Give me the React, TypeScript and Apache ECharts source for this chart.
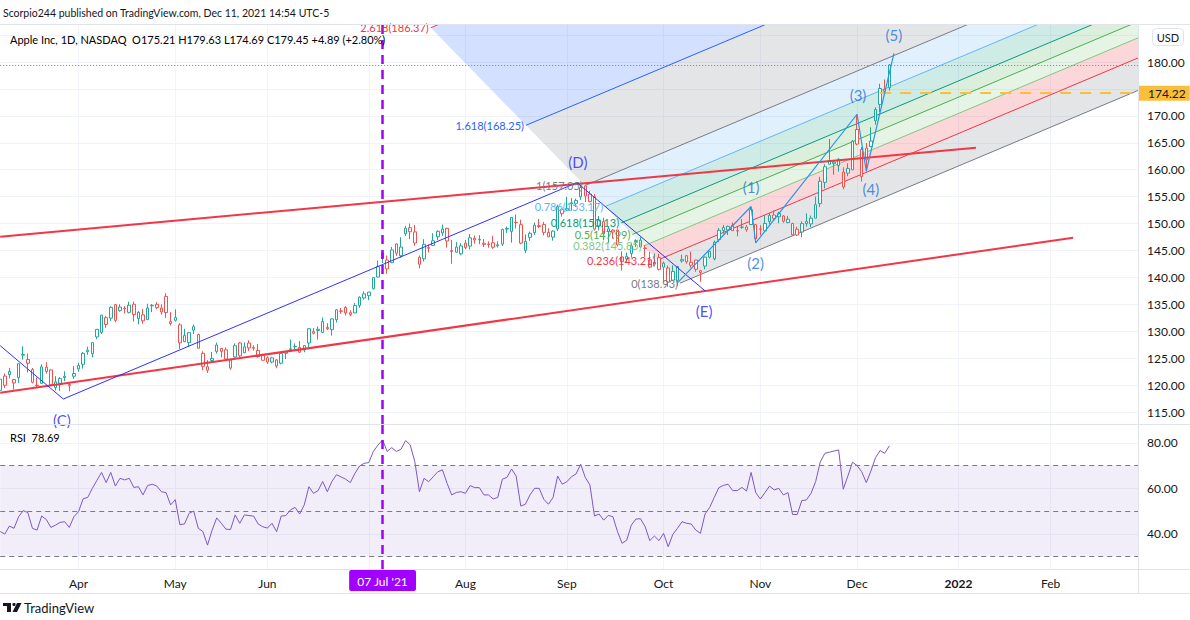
import React, { useEffect, useRef } from "react";
import * as echarts from "echarts";

// ---------- calendar ----------
const FIRST_DAY = "2021-03-09";
const LAST_DAY = "2022-03-01";
const HOLIDAYS = ["2021-04-02", "2021-05-31", "2021-07-05", "2021-09-06", "2021-11-25", "2021-12-24", "2022-01-17", "2022-02-21"];
const MONTHS = ["Jan", "Feb", "Mar", "Apr", "May", "Jun", "Jul", "Aug", "Sep", "Oct", "Nov", "Dec"];

// ---------- daily OHLC (Mar 9 2021 .. Dec 10 2021) ----------
const OPEN = [
  119.03, 121.69, 122.54, 120.40, 121.41, 125.70, 124.05, 122.88, 119.90, 120.33, 123.33, 122.82, 119.54, 120.35, 121.65, 120.11, 121.65,
  123.66, 123.87, 126.50, 125.83, 128.95, 129.80, 132.52, 132.44, 134.94, 133.82, 134.30, 133.51, 135.02, 132.36, 133.04, 132.16, 134.83, 135.01, 134.31, 136.47, 131.78,
  132.04, 131.19, 129.20, 127.89, 130.85, 129.41, 123.50, 123.40, 124.58, 126.25, 126.82, 126.56, 123.16, 125.23, 127.82, 126.01, 127.82, 126.96, 126.44, 125.57,
  125.08, 124.28, 124.68, 124.07, 126.17, 126.60, 127.21, 127.02, 126.53, 127.82, 129.94, 130.37, 129.80, 130.71, 130.30, 132.13, 133.77, 134.45, 133.46, 133.41, 134.80, 136.17,
  136.60, 137.90, 140.07, 143.54, 141.58, 142.75, 146.21, 144.03, 148.10, 149.24, 148.46, 143.75, 143.46, 145.53, 145.94, 147.55, 148.27, 149.12, 144.81, 144.69, 144.38,
  146.36, 145.81, 147.27, 146.98, 146.35, 146.20, 146.44, 146.05, 146.19, 148.97, 148.54, 150.23, 149.80, 145.03, 147.44, 148.31, 149.45, 149.81, 148.35, 147.48, 149.00, 152.66,
  152.83, 153.87, 153.76, 154.97, 156.98, 155.49, 155.00, 150.63, 150.35, 148.56, 148.44, 148.82, 143.80, 143.93, 144.45, 146.65, 145.66, 145.47, 143.25, 142.47, 143.66,
  141.90, 141.76, 139.49, 139.47, 143.06, 144.03, 142.27, 143.23, 141.24, 142.11, 143.77, 143.45, 147.01, 148.70, 148.81, 149.69, 148.68, 149.33, 149.36, 149.82, 147.22,
  148.99, 148.66, 150.39, 151.58, 151.89, 151.41, 150.20, 150.02, 148.96, 148.43, 150.37, 149.94, 151.00, 153.71, 157.65, 161.68, 161.12, 160.75, 159.57, 159.37, 159.99,
  167.48, 158.74, 164.02, 164.29, 169.08, 172.13, 174.91, 175.21,
];
const HIGH = [
  122.06, 122.17, 123.21, 121.17, 124.00, 127.22, 125.86, 123.18, 121.43, 123.87, 124.24, 122.90, 121.66, 121.48, 122.58, 120.40, 123.52,
  124.18, 126.16, 127.13, 127.92, 130.39, 133.04, 132.85, 134.66, 135.00, 135.00, 134.67, 135.47, 135.53, 133.75, 134.15, 135.12, 135.06, 135.41, 135.02, 137.07, 133.56,
  134.07, 131.49, 130.45, 129.75, 131.26, 129.54, 126.27, 124.64, 126.15, 127.89, 126.93, 126.99, 124.92, 127.72, 128.00, 127.94, 128.32, 127.39, 127.64, 125.80,
  125.35, 125.24, 124.85, 126.16, 126.32, 128.46, 127.75, 128.19, 127.44, 130.54, 130.60, 130.89, 132.55, 131.51, 132.41, 134.08, 134.32, 134.64, 133.89, 135.25, 136.49, 137.41,
  137.33, 140.00, 143.15, 144.89, 144.06, 145.65, 146.32, 147.46, 149.57, 150.00, 149.76, 144.07, 147.10, 146.13, 148.20, 148.72, 149.83, 149.21, 146.97, 146.55, 146.33,
  146.95, 148.04, 147.79, 147.84, 147.11, 146.70, 147.71, 146.72, 149.05, 149.44, 151.19, 151.68, 150.72, 148.00, 148.50, 150.19, 150.86, 150.32, 149.12, 148.75, 153.49, 152.80,
  154.98, 154.72, 154.63, 157.26, 157.04, 156.11, 155.48, 151.42, 151.07, 149.44, 148.97, 148.82, 144.84, 144.60, 146.43, 147.08, 147.47, 145.96, 144.75, 144.45, 144.38,
  142.92, 142.21, 142.24, 142.15, 144.22, 144.18, 144.81, 143.25, 141.40, 143.88, 144.90, 146.84, 149.17, 149.75, 149.64, 150.18, 149.37, 150.84, 149.73, 153.17, 149.94,
  149.70, 151.57, 151.97, 152.43, 152.20, 151.57, 151.43, 150.13, 149.43, 150.40, 151.88, 151.49, 155.00, 158.67, 161.02, 165.70, 161.80, 162.14, 160.45, 161.19, 165.52,
  170.30, 164.20, 164.96, 167.88, 171.58, 175.96, 176.75, 179.63,
];
const LOW = [
  118.79, 119.45, 121.26, 119.16, 120.42, 124.72, 122.34, 120.32, 119.68, 120.26, 122.14, 120.07, 119.00, 118.92, 120.73, 118.86, 121.15,
  122.49, 123.07, 125.65, 125.14, 128.52, 129.47, 130.63, 131.93, 131.66, 133.64, 133.28, 133.34, 131.81, 131.30, 131.41, 132.16, 133.56, 134.11, 133.08, 132.45, 131.07,
  131.83, 126.70, 127.97, 127.13, 129.48, 126.81, 122.77, 122.25, 124.26, 125.85, 125.17, 124.78, 122.86, 125.10, 125.21, 125.94, 126.32, 126.42, 125.08, 124.55,
  123.94, 124.05, 123.13, 123.85, 124.83, 126.21, 126.52, 125.94, 126.10, 127.07, 129.39, 128.46, 129.65, 130.24, 129.21, 131.62, 133.23, 132.93, 132.81, 133.35, 134.35, 135.87,
  135.76, 137.75, 140.07, 142.66, 140.67, 142.65, 144.00, 143.63, 147.68, 147.09, 145.88, 141.67, 142.96, 144.63, 145.81, 146.92, 147.70, 145.55, 142.54, 144.58, 144.11,
  145.25, 145.18, 146.28, 146.17, 145.63, 145.52, 145.30, 145.53, 145.84, 148.27, 146.47, 149.09, 146.15, 144.50, 146.78, 147.89, 149.15, 147.80, 147.51, 146.83, 148.61, 151.29,
  152.34, 152.40, 153.09, 154.39, 153.98, 153.95, 148.70, 148.75, 146.91, 146.37, 147.22, 145.76, 141.27, 142.78, 143.70, 145.64, 145.56, 143.82, 141.69, 142.03, 141.28,
  139.11, 138.27, 139.36, 138.37, 142.72, 142.56, 141.81, 141.04, 139.20, 141.51, 143.51, 143.16, 146.55, 148.12, 147.87, 148.64, 147.62, 149.01, 148.49, 149.72, 146.41,
  147.80, 148.65, 149.82, 150.64, 150.06, 150.16, 150.06, 147.85, 147.68, 147.48, 149.43, 149.34, 150.99, 153.05, 156.53, 161.00, 159.06, 159.64, 156.36, 158.79, 159.92,
  164.53, 157.80, 159.72, 164.28, 168.34, 170.70, 173.92, 174.69,
];
const CLOSE = [
  121.09, 119.98, 121.96, 121.03, 123.99, 125.57, 124.76, 120.53, 119.99, 123.39, 122.54, 120.09, 120.59, 121.21, 121.39, 119.90, 122.15,
  123.00, 125.90, 126.21, 127.90, 130.36, 133.00, 131.24, 134.43, 132.03, 134.50, 134.16, 134.84, 133.11, 133.50, 131.94, 134.32, 134.72, 134.39, 133.58, 133.48, 131.46,
  132.54, 127.85, 128.10, 129.74, 130.21, 126.85, 125.91, 122.77, 124.97, 127.45, 126.27, 124.85, 124.69, 127.31, 125.43, 127.10, 126.90, 126.85, 125.28, 124.61,
  124.28, 125.06, 123.54, 125.89, 125.90, 126.74, 127.13, 126.11, 127.35, 130.48, 129.64, 130.15, 131.79, 130.46, 132.30, 133.98, 133.70, 133.41, 133.11, 134.78, 136.33, 136.96,
  137.27, 139.96, 142.02, 144.57, 143.24, 145.11, 144.50, 145.64, 149.15, 148.48, 146.39, 142.45, 146.15, 145.40, 146.80, 148.56, 148.99, 146.77, 144.98, 145.64, 145.86,
  145.52, 147.36, 146.95, 147.06, 146.14, 146.09, 145.60, 145.86, 148.89, 149.10, 151.12, 150.19, 146.36, 146.70, 148.19, 149.71, 149.62, 148.36, 147.54, 148.60, 153.12, 151.83,
  152.51, 153.65, 154.30, 156.69, 155.11, 154.07, 148.97, 149.55, 148.12, 149.03, 148.79, 146.06, 142.94, 143.43, 145.85, 146.83, 146.92, 145.37, 141.91, 142.83, 141.50,
  142.65, 139.14, 141.11, 142.00, 143.29, 142.90, 142.81, 141.51, 140.91, 143.76, 144.84, 146.55, 148.76, 149.26, 149.48, 148.69, 148.64, 149.32, 148.85, 152.57, 149.80,
  148.96, 150.02, 151.49, 150.96, 151.28, 150.44, 150.81, 147.92, 147.87, 149.99, 150.00, 151.00, 153.49, 157.87, 160.55, 161.02, 161.41, 161.94, 156.81, 160.24, 165.30,
  164.77, 163.76, 161.84, 165.32, 171.18, 175.08, 174.56, 179.45,
];
const CLOSE_BEFORE_FIRST = 116.36;

// ---------- RSI(14) ----------
const RSI = [
  41, 39.9, 43.4, 42.4, 47.5, 50.2, 49.3, 42.4, 41.6, 47.8,
  46.3, 42.8, 43.8, 45, 45.3, 42.8, 47.5, 49.7, 55.4, 56,
  60, 63.5, 67, 62.5, 67, 61, 64.4, 63.7, 64.4, 60.4,
  60.7, 57.1, 61.2, 61.8, 61, 58.5, 58.1, 52.7, 55, 44,
  44.3, 49, 50, 42.4, 41, 35, 41.6, 47, 44.6, 42,
  41.9, 48.3, 44.6, 48.3, 48, 47.8, 44.3, 43.1, 42.5, 44.6,
  40.9, 47.8, 48, 50.5, 51.6, 48.7, 52.7, 60.7, 57.8, 59,
  63, 58.5, 63, 66, 65, 64, 62.5, 66.6, 69.8, 71,
  71.3, 76.2, 79, 81.3, 76.2, 77.9, 76.2, 77.2, 81, 79.1,
  71.7, 58.5, 64.4, 62.9, 65.1, 67.3, 68.1, 62.2, 57.1, 58.2,
  58.5, 57.8, 61.2, 60.3, 60.3, 57.1, 57.1, 55.3, 56, 64,
  64.8, 68.5, 65.4, 52.2, 53, 57.1, 60, 60, 55.2, 53,
  55.9, 65.4, 61.8, 62.9, 65.1, 66.3, 70.6, 64.8, 61.5, 47.8,
  48.7, 46, 48.1, 47.5, 40.9, 35.8, 37.2, 43.8, 46.5, 46.6,
  43.1, 37, 39, 37, 40.2, 34.3, 39.7, 42.4, 45.3, 44.6,
  44.3, 41.6, 40.2, 48.7, 51.6, 56, 60.3, 61.3, 61.8, 59,
  59, 60.4, 58.8, 67, 58.1, 55.3, 58.1, 61, 59.3, 60,
  57.1, 58.1, 48.5, 48.5, 54.6, 54.9, 57.8, 62.9, 71.5, 75.4,
  75.9, 76.4, 76.9, 59.6, 65.4, 71.5, 70, 67.3, 62.5, 67.6,
  73.5, 76.6, 75.4, 78.69,
];

// ---------- axis ticks ----------
const PRICE_GRID = [115, 120, 125, 130, 135, 140, 145, 150, 155, 160, 165, 170, 175, 180, 185];
// 175 and 185 are covered by the 174.22 tag and the USD badge in the reference
const PRICE_LABELS = [115, 120, 125, 130, 135, 140, 145, 150, 155, 160, 165, 170, 180];
const RSI_TICKS = [40, 60, 80];
const RSI_LEVELS = [30, 50, 70];

// ---------- drawings (bar index, price) ----------
const ABC_PATH = [[0, 127.32], [13.7, 117.42], [125.2, 157.6], [153, 137.5]];
const WAVE_PATH = [[147, 139.0], [163, 153.17], [164, 146.41], [186, 170.3], [188, 159.72], [194, 181.6]];
const RED_UPPER = [[0, 147.56], [211.8, 164.1]];
const RED_LOWER = [[0, 118.57], [232.9, 147.37]];
const LETTER_LABELS = ["(C)", "(D)", "(E)"];
const LETTER_POS = [[13.4, 113.52], [125.4, 161.43], [152.8, 133.76]];
const WAVE_LABELS = ["(1)", "(2)", "(3)", "(4)", "(5)"];
const WAVE_POS = [[163, 156.79], [164, 142.67], [186.2, 173.87], [189, 156.42], [194, 185.01]];
const MARKED_DAY = "2021-07-07";
const MARKED_DAY_LABEL = "07 Jul '21";
const HLINE_PRICE = 174.22;
const HLINE_FROM = 191;
const LAST_PRICE = 179.45;

// Fib channel
const FIB_LEVELS = [0, 0.236, 0.382, 0.5, 0.618, 0.786, 1, 1.618, 2.618];
const FIB_COLORS = ["#787b86", "#f23645", "#81c784", "#4caf50", "#089981", "#64b5f6", "#787b86", "#2962ff", "#f23645"];
const FIB_LOW = 138.93;
const FIB_HIGH = 157.05;
const FIB_IDX_LOW = 147.56;
const FIB_IDX_HIGH = 126.9;
const FIB_SLOPE = 0.36; // price per bar

const FONT = "'Trebuchet MS', Lato, 'Noto Sans', sans-serif";
const TEXT = "#131722";
const GREEN = "#26a69a";
const RED = "#ef5350";
const GRID_C = "#f0f3fa";
const BORDER_C = "#e0e3eb";
const PURPLE = "#a100ff";

function tradingDays(): string[] {
  const out: string[] = [];
  const d = new Date(FIRST_DAY + "T00:00:00Z");
  const end = new Date(LAST_DAY + "T00:00:00Z");
  while (d <= end) {
    const wd = d.getUTCDay();
    const s = d.toISOString().slice(0, 10);
    if (wd !== 0 && wd !== 6 && HOLIDAYS.indexOf(s) < 0) out.push(s);
    d.setUTCDate(d.getUTCDate() + 1);
  }
  return out;
}

function hexA(hex: string, a: number) {
  const n = parseInt(hex.slice(1), 16);
  return `rgba(${(n >> 16) & 255},${(n >> 8) & 255},${n & 255},${a})`;
}

export default function App() {
  const ref = useRef<HTMLDivElement>(null);
  useEffect(() => {
    if (!ref.current) return;
    const chart = echarts.init(ref.current, undefined, { renderer: "svg" });
    const dates = tradingDays();
    const nCat = dates.length;
    const monthStart: number[] = [];
    for (let i = 1; i < nCat; i++) {
      if (dates[i].slice(5, 7) !== dates[i - 1].slice(5, 7)) monthStart.push(i);
    }
    const splitSet = new Set(monthStart.filter((i) => i < nCat - 1));
    const labelSet = new Set(monthStart.filter((i) => i < nCat - 1 && dates[i].slice(0, 7) !== MARKED_DAY.slice(0, 7)));

    const n = Math.min(OPEN.length, HIGH.length, LOW.length, CLOSE.length);
    const candles = [];
    for (let i = 0; i < n; i++) {
      const prev = i === 0 ? CLOSE_BEFORE_FIRST : CLOSE[i - 1];
      const col = CLOSE[i] >= prev ? GREEN : RED;
      candles.push({
        value: [OPEN[i], CLOSE[i], LOW[i], HIGH[i]],
        itemStyle: { color: "#ffffff", color0: col, borderColor: col, borderColor0: col, borderWidth: 1 },
      });
    }

    const fibGeom = (api: any) =>
      FIB_LEVELS.map((L) => {
        const si = FIB_IDX_LOW + L * (FIB_IDX_HIGH - FIB_IDX_LOW);
        const sp = FIB_LOW + L * (FIB_HIGH - FIB_LOW);
        const ei = 320;
        const ep = sp + FIB_SLOPE * (ei - si);
        return { s: api.coord([si, sp]), e: api.coord([ei, ep]), price: sp, L };
      });

    const legendRich = {
      n: { color: TEXT, fontSize: 11, fontFamily: FONT },
      k: { color: TEXT, fontSize: 11, fontFamily: FONT },
      v: { color: GREEN, fontSize: 11, fontFamily: FONT },
      r: { color: "#7e57c2", fontSize: 11, fontFamily: FONT },
    };

    const option: any = {
      animation: false,
      backgroundColor: "#ffffff",
      textStyle: { fontFamily: FONT },
      grid: [
        { left: 0.2, right: 51.9, top: 24, height: 400 },
        { left: 0.2, right: 51.9, top: 424, height: 145 },
      ],
      xAxis: [
        {
          type: "category", gridIndex: 0, data: dates, boundaryGap: false,
          axisLine: { show: false }, axisTick: { show: false }, axisLabel: { show: false },
          splitLine: { show: true, interval: (i: number) => splitSet.has(i), lineStyle: { color: GRID_C, width: 1 } },
        },
        {
          type: "category", gridIndex: 1, data: dates, boundaryGap: false,
          axisLine: { show: false }, axisTick: { show: false },
          axisLabel: {
            show: true, interval: (i: number) => labelSet.has(i), margin: 8, fontSize: 12, color: TEXT, fontFamily: FONT,
            formatter: (v: string) => {
              const m = +v.slice(5, 7);
              return m === 1 ? `{b|${v.slice(0, 4)}}` : MONTHS[m - 1];
            },
            rich: { b: { fontWeight: "bold", fontSize: 12, color: TEXT, fontFamily: FONT } },
          },
          splitLine: { show: true, interval: (i: number) => splitSet.has(i), lineStyle: { color: GRID_C, width: 1 } },
        },
        { type: "value", gridIndex: 0, min: 0, max: nCat - 1, show: false },
      ],
      yAxis: [
        {
          type: "value", gridIndex: 0, position: "right", min: 112.78, max: 187.06, scale: true,
          axisLine: { show: false },
          axisTick: { show: false, customValues: PRICE_GRID },
          axisLabel: { customValues: PRICE_LABELS, formatter: (v: number) => v.toFixed(2), color: TEXT, fontSize: 12, margin: 9, fontFamily: FONT },
          splitLine: { show: true, lineStyle: { color: GRID_C, width: 1 } },
        },
        {
          type: "value", gridIndex: 1, position: "right", min: 24.5, max: 88.3, scale: true,
          axisLine: { show: false },
          axisTick: { show: false, customValues: RSI_TICKS },
          axisLabel: { customValues: RSI_TICKS, formatter: (v: number) => v.toFixed(2), color: TEXT, fontSize: 12, margin: 9, fontFamily: FONT },
          splitLine: { show: true, lineStyle: { color: GRID_C, width: 1 } },
        },
      ],
      series: [
        {
          type: "custom", name: "fibFill", xAxisIndex: 2, yAxisIndex: 0, clip: true, silent: true, z: 1,
          data: [[0, 150]],
          renderItem: (_p: any, api: any) => {
            const g = fibGeom(api);
            const children: any[] = [];
            for (let i = 0; i < g.length - 1; i++) {
              children.push({
                type: "polygon",
                shape: { points: [g[i].s, g[i].e, g[i + 1].e, g[i + 1].s] },
                style: { fill: hexA(FIB_COLORS[i], 0.2), stroke: "none" },
              });
            }
            g.forEach((p, i) => {
              children.push({ type: "line", shape: { x1: p.s[0], y1: p.s[1], x2: p.e[0], y2: p.e[1] }, style: { stroke: FIB_COLORS[i], lineWidth: 1 } });
            });
            return { type: "group", children };
          },
        },
        {
          type: "custom", name: "fibText", xAxisIndex: 2, yAxisIndex: 0, clip: false, silent: true, z: 6,
          data: [[0, 150]],
          renderItem: (_p: any, api: any) => {
            const g = fibGeom(api);
            return {
              type: "group",
              children: g.map((p, i) => ({
                type: "text",
                x: p.s[0] - 2,
                y: p.s[1],
                style: {
                  text: `${p.L}(${p.price.toFixed(2)})`,
                  fill: FIB_COLORS[i], font: `11px ${FONT}`,
                  align: "right", verticalAlign: "middle", textAlign: "right", textVerticalAlign: "middle",
                },
              })),
            };
          },
        },
        {
          type: "candlestick", name: "AAPL", xAxisIndex: 0, yAxisIndex: 0, barWidth: 3, z: 3,
          data: candles,
          markLine: {
            silent: true, symbol: ["none", "none"], animation: false,
            data: [
              { yAxis: LAST_PRICE, lineStyle: { color: GREEN, type: [1, 2], width: 1 }, label: { show: false } },
              { xAxis: MARKED_DAY, lineStyle: { color: PURPLE, type: [9, 6], width: 2.5 }, label: { show: false } },
              [
                { coord: [HLINE_FROM, HLINE_PRICE], lineStyle: { color: "#f9bf3b", type: [11, 9], width: 2 } },
                {
                  coord: [nCat - 1, HLINE_PRICE],
                  label: {
                    show: true, position: "end", distance: 0, formatter: HLINE_PRICE.toFixed(2),
                    backgroundColor: "#f9bf3b", color: TEXT, fontSize: 12, fontFamily: FONT, padding: [2, 4, 1, 10],
                  },
                },
              ],
            ],
          },
        },
        { type: "line", xAxisIndex: 2, yAxisIndex: 0, data: RED_UPPER, symbol: "none", silent: true, z: 4, lineStyle: { color: "#f23645", width: 2 } },
        { type: "line", xAxisIndex: 2, yAxisIndex: 0, data: RED_LOWER, symbol: "none", silent: true, z: 4, lineStyle: { color: "#f23645", width: 2 } },
        { type: "line", xAxisIndex: 2, yAxisIndex: 0, data: ABC_PATH, symbol: "none", silent: true, z: 5, lineStyle: { color: "#2f2fff", width: 1 } },
        { type: "line", xAxisIndex: 2, yAxisIndex: 0, data: WAVE_PATH, symbol: "none", silent: true, z: 5, lineStyle: { color: "#2196f3", width: 1.2 } },
        {
          type: "scatter", xAxisIndex: 2, yAxisIndex: 0, symbolSize: 0, silent: true, z: 6, clip: false,
          data: LETTER_LABELS.map((t, i) => ({ name: t, value: LETTER_POS[i] })),
          label: { show: true, position: "inside", formatter: (p: any) => p.name, color: "#2323ff", fontSize: 15, fontFamily: FONT },
        },
        {
          type: "scatter", xAxisIndex: 2, yAxisIndex: 0, symbolSize: 0, silent: true, z: 6, clip: false,
          data: WAVE_LABELS.map((t, i) => ({ name: t, value: WAVE_POS[i] })),
          label: { show: true, position: "inside", formatter: (p: any) => p.name, color: "#1e73d8", fontSize: 15, fontFamily: FONT },
        },
        {
          type: "line", name: "RSI", xAxisIndex: 1, yAxisIndex: 1, data: RSI, symbol: "none", z: 3,
          lineStyle: { color: "#7e57c2", width: 1 },
          markArea: { silent: true, itemStyle: { color: "rgba(126,87,194,0.1)" }, data: [[{ yAxis: 30 }, { yAxis: 70 }]] },
          markLine: {
            silent: true, symbol: ["none", "none"],
            data: [
              ...RSI_LEVELS.map((v) => ({ yAxis: v, lineStyle: { color: "#787b86", type: [5, 4], width: 1 }, label: { show: false } })),
              {
                xAxis: MARKED_DAY, lineStyle: { color: PURPLE, type: [9, 6], width: 2.5 },
                label: {
                  show: true, position: "start", distance: 1, formatter: MARKED_DAY_LABEL, color: "#ffffff",
                  backgroundColor: PURPLE, padding: [5, 8, 4, 8], fontSize: 12, fontFamily: FONT, borderRadius: 2,
                },
              },
            ],
          },
        },
      ],
      graphic: [
        { type: "line", z: 10, shape: { x1: 0, y1: 24.5, x2: 1190, y2: 24.5 }, style: { stroke: BORDER_C, lineWidth: 1 } },
        { type: "line", z: 10, shape: { x1: 0, y1: 424.5, x2: 1190, y2: 424.5 }, style: { stroke: BORDER_C, lineWidth: 1 } },
        { type: "line", z: 10, shape: { x1: 0, y1: 569.5, x2: 1190, y2: 569.5 }, style: { stroke: BORDER_C, lineWidth: 1 } },
        { type: "line", z: 10, shape: { x1: 0, y1: 593.5, x2: 1190, y2: 593.5 }, style: { stroke: BORDER_C, lineWidth: 1 } },
        { type: "line", z: 10, shape: { x1: 1138.5, y1: 24, x2: 1138.5, y2: 594 }, style: { stroke: BORDER_C, lineWidth: 1 } },
        {
          type: "text", z: 10, x: 3, y: 13,
          style: { text: "Scorpio244 published on TradingView.com, Dec 11, 2021 14:54 UTC-5", fill: TEXT, font: `10.5px ${FONT}`, verticalAlign: "middle", textVerticalAlign: "middle" },
        },
        {
          type: "text", z: 10, x: 10, y: 39,
          style: {
            text: "{n|Apple Inc, 1D, NASDAQ}  {k|O}{v|175.21} {k|H}{v|179.63} {k|L}{v|174.69} {k|C}{v|179.45} {v|+4.89 (+2.80%)}",
            rich: legendRich, font: `11px ${FONT}`, verticalAlign: "middle", textVerticalAlign: "middle",
          },
        },
        {
          type: "text", z: 10, x: 10, y: 437,
          style: { text: "{k|RSI}  {r|78.69}", rich: legendRich, font: `11px ${FONT}`, verticalAlign: "middle", textVerticalAlign: "middle" },
        },
        { type: "rect", z: 20, shape: { x: 1152.5, y: 28.5, width: 31, height: 17, r: 4 }, style: { fill: "#ffffff", stroke: BORDER_C, lineWidth: 1 } },
        { type: "text", z: 21, x: 1168, y: 37, style: { text: "USD", fill: TEXT, font: `11px ${FONT}`, align: "center", textAlign: "center", verticalAlign: "middle", textVerticalAlign: "middle" } },
        // TradingView logo
        { type: "rect", z: 10, shape: { x: 3, y: 603, width: 8, height: 3 }, style: { fill: TEXT } },
        { type: "rect", z: 10, shape: { x: 7, y: 603, width: 4, height: 9 }, style: { fill: TEXT } },
        { type: "circle", z: 10, shape: { cx: 14, cy: 604.5, r: 1.6 }, style: { fill: TEXT } },
        { type: "polygon", z: 10, shape: { points: [[17, 603], [21.5, 603], [17, 612], [12.5, 612]] }, style: { fill: TEXT } },
        { type: "text", z: 10, x: 24, y: 607.5, style: { text: "TradingView", fill: TEXT, font: `13px ${FONT}`, verticalAlign: "middle", textVerticalAlign: "middle" } },
      ],
    };
    chart.setOption(option);
    return () => chart.dispose();
  }, []);
  return <div ref={ref} style={{ position: "fixed", left: 0, top: 0, width: 1190, height: 620, background: "#fff" }} />;
}
